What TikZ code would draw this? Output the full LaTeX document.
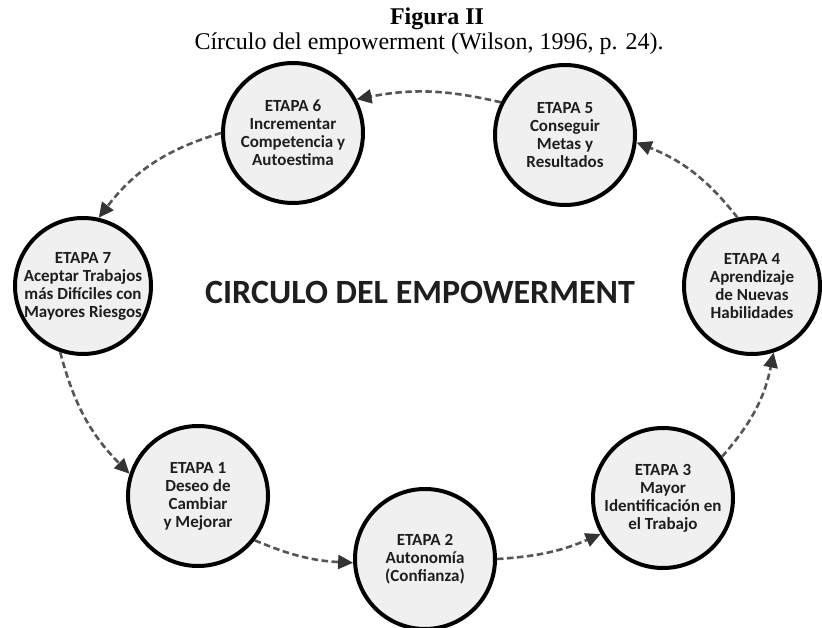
\documentclass[tikz,border=0pt]{standalone}
\usepackage{fontspec}
\setmainfont{Liberation Serif}
\newfontfamily\calfont{Carlito}
\usetikzlibrary{arrows.meta}
\definecolor{circfill}{HTML}{F0F0F0}
\definecolor{arrgray}{HTML}{555555}
\definecolor{tipgray}{HTML}{333333}
\definecolor{txtgray}{HTML}{1E1E1E}
\tikzset{
  stage/.style={circle, draw=black, line width=4pt, fill=circfill, inner sep=0pt, minimum size=#1},
  stage/.default=140pt,
  stxt/.style={align=center, inner sep=0pt, text=txtgray, font=\calfont\bfseries\fontsize{17}{18}\selectfont},
  flow/.style={draw=arrgray, line width=2.6pt, dash pattern=on 6.5pt off 3.5pt,
    -{Triangle[length=15pt, width=14pt, color=tipgray]}, shorten >=0pt}
}
\begin{document}
\begin{tikzpicture}[x=1pt, y=1pt]
\useasboundingbox (0,0) rectangle (822,627);
% title
\node[anchor=base, font=\bfseries\fontsize{24}{26}\selectfont, inner sep=0pt] (title) at (437,602) {Figura II};
\node[anchor=base, font=\fontsize{24}{26}\selectfont, inner sep=0pt] (caption) at (429,577) {Círculo del empowerment (Wilson, 1996, p. 24).};
% centre title
\node[font=\calfont\bfseries\fontsize{34}{36}\selectfont, text=txtgray, inner sep=0pt] (centre) at (420,335) {CIRCULO DEL EMPOWERMENT};
% stages
\node[stage] (n1) at (198,131) {};
\node[stage] (n2) at (425,68) {};
\node[stage] (n3) at (663,129) {};
\node[stage=136pt] (n4) at (752,341) {};
\node[stage] (n5) at (565,492) {};
\node[stage] (n6) at (293,494) {};
\node[stage=136pt] (n7) at (83,341) {};
% stage texts
\node[stxt] (t1) at (n1) {ETAPA 1\\Deseo de\\Cambiar\\y Mejorar};
\node[stxt] (t2) at (n2) {ETAPA 2\\Autonomía\\(Confianza)};
\node[stxt] (t3) at (n3) {ETAPA 3\\Mayor\\Identificación en\\el Trabajo};
\node[stxt] (t4) at (n4) {ETAPA 4\\Aprendizaje\\de Nuevas\\Habilidades};
\node[stxt] (t5) at (n5) {ETAPA 5\\Conseguir\\Metas y\\Resultados};
\node[stxt] (t6) at (n6) {ETAPA 6\\Incrementar\\Competencia y\\Autoestima};
\node[stxt] (t7) at (n7) {ETAPA 7\\Aceptar Trabajos\\más Difíciles con\\Mayores Riesgos};
% connectors
\draw[flow] (n1.-38) to[bend right=10] (n2.183);
\draw[flow] (n2.0) to[bend right=10] (n3.210);
\draw[flow] (n3.35) to[bend right=15] (n4.-72);
\draw[flow] (n4.102) to[bend right=15] (n5.-6);
\draw[flow] (n5.153) to[bend right=12] (n6.28);
\draw[flow] (n6.180) to[bend right=18] (n7.77);
\draw[flow] (n7.-109) to[bend right=15] (n1.162);
\end{tikzpicture}
\end{document}
